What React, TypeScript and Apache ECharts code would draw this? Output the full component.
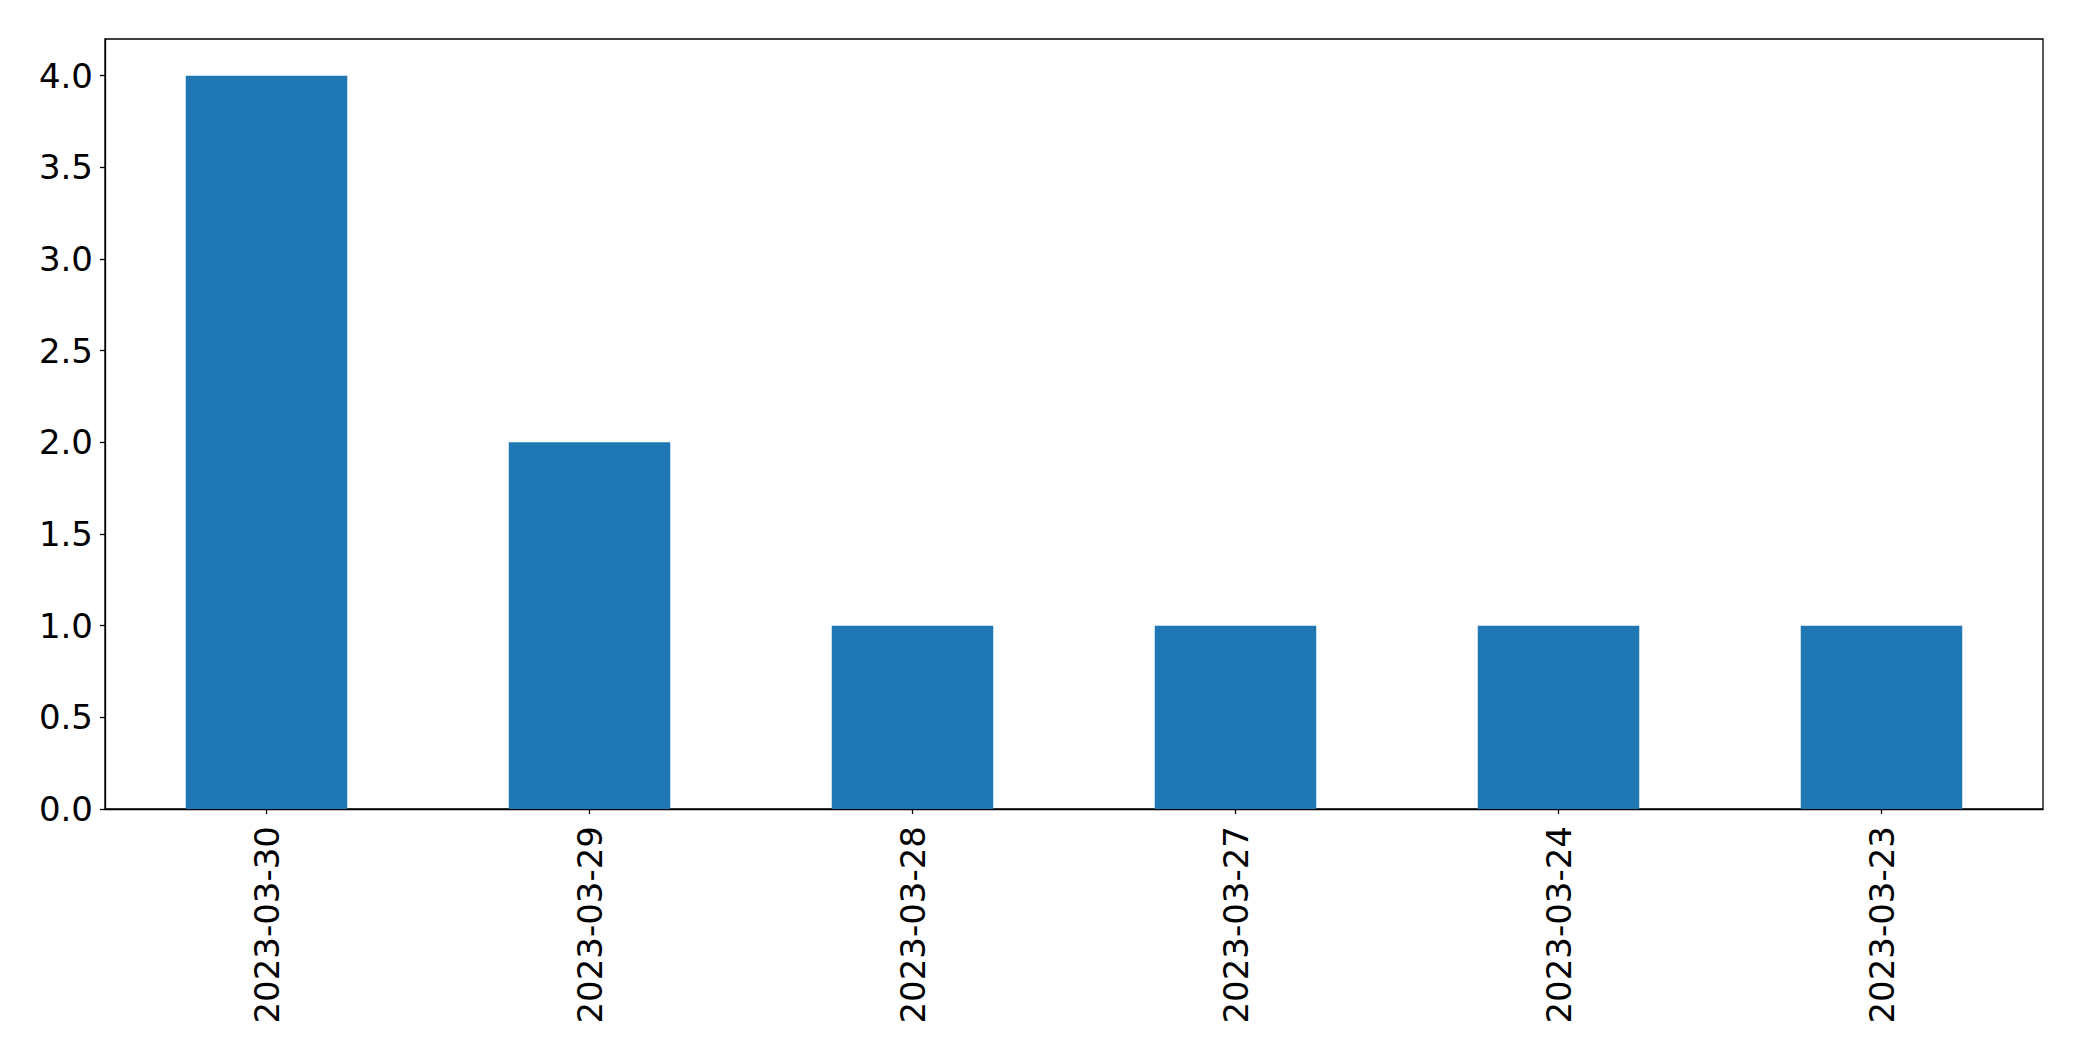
import React, { useEffect, useRef } from "react";
import * as echarts from "echarts";

const categories = ["2023-03-30", "2023-03-29", "2023-03-28", "2023-03-27", "2023-03-24", "2023-03-23"];
const counts = [4, 2, 1, 1, 1, 1];
const yTicks = [0, 0.5, 1, 1.5, 2, 2.5, 3, 3.5, 4];

export default function App() {
  const ref = useRef<HTMLDivElement>(null);
  useEffect(() => {
    if (!ref.current) return;
    const chart = echarts.init(ref.current, null, { renderer: "svg" });
    const font = "DejaVu Sans";
    chart.setOption({
      animation: false,
      backgroundColor: "#ffffff",
      grid: {
        left: 105,
        right: 39,
        top: 39,
        bottom: 252,
        show: true,
        borderColor: "#000000",
        borderWidth: 1.3,
        backgroundColor: "transparent",
      },
      xAxis: {
        type: "category",
        data: categories,
        boundaryGap: true,
        axisLine: { show: true, lineStyle: { color: "#000000", width: 1.3 } },
        axisTick: { show: true, alignWithLabel: true, length: 5, lineStyle: { color: "#000000", width: 1.3 } },
        axisLabel: {
          rotate: 90,
          margin: 17,
          fontSize: 34,
          fontFamily: font,
          color: "#000000",
          interval: 0,
        },
        splitLine: { show: false },
      },
      yAxis: {
        type: "value",
        min: 0,
        max: 4.2,
        axisLine: { show: true, lineStyle: { color: "#000000", width: 1.3 } },
        axisTick: { show: true, length: 5, customValues: yTicks, lineStyle: { color: "#000000", width: 1.3 } },
        axisLabel: {
          customValues: yTicks,
          margin: 12,
          fontSize: 34,
          fontFamily: font,
          color: "#000000",
          formatter: (v: number) => v.toFixed(1),
        },
        splitLine: { show: false },
      },
      series: [
        {
          type: "bar",
          data: counts,
          barCategoryGap: "50%",
          itemStyle: { color: "#1f77b4" },
        },
      ],
    });
    return () => chart.dispose();
  }, []);
  return (
    <div
      ref={ref}
      style={{ position: "fixed", left: 0, top: 0, width: 2082, height: 1061, background: "#fff" }}
    />
  );
}
